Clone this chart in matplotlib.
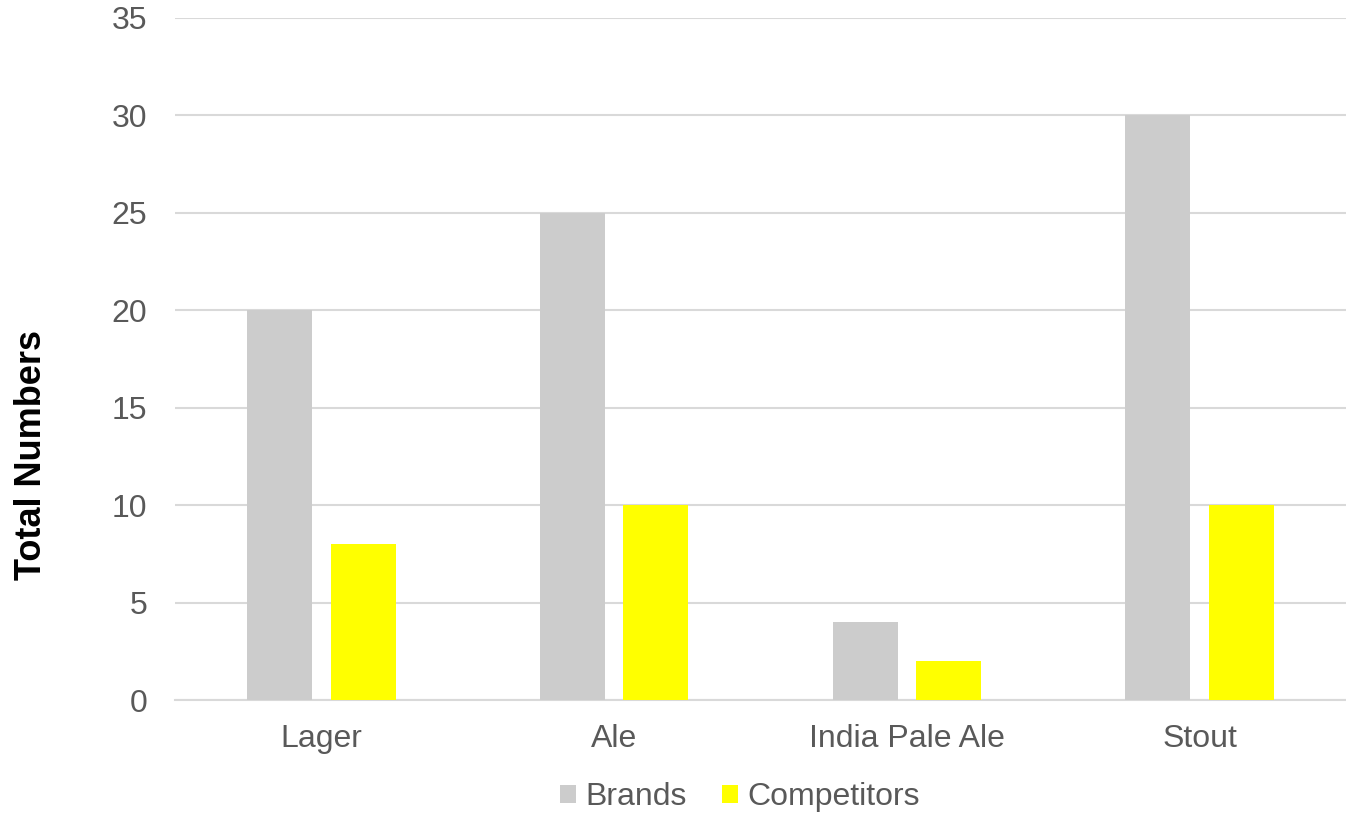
import numpy as np
import matplotlib.pyplot as plt

plt.rcParams['font.family'] = ['Liberation Sans', 'DejaVu Sans']

categories = ['Lager', 'Ale', 'India Pale Ale', 'Stout']
brands = [20, 25, 4, 30]
competitors = [8, 10, 2, 10]

fig = plt.figure(figsize=(13.46, 8.16), dpi=100)
ax = fig.add_axes([175 / 1346, 116 / 816, 1171 / 1346, 682 / 816])

x = np.arange(len(categories))
w = 0.222
off = 0.143
ax.bar(x - off, brands, w, color='#cccccc', label='Brands', zorder=3)
ax.bar(x + off, competitors, w, color='#ffff00', label='Competitors', zorder=3)

ax.set_xlim(-0.5, 3.5)
ax.set_ylim(0, 35)
ax.set_yticks(range(0, 36, 5))
ax.set_xticks(x)
ax.set_xticklabels(categories)
ax.grid(axis='y', color='#d9d9d9', linewidth=1.5, zorder=0)
for s in ['top', 'right', 'left']:
    ax.spines[s].set_visible(False)
ax.spines['bottom'].set_color('#d9d9d9')
ax.spines['bottom'].set_linewidth(1.5)
ax.tick_params(axis='both', length=0, labelsize=23, labelcolor='#595959')
ax.tick_params(axis='y', pad=20)
ax.tick_params(axis='x', pad=17)

fig.text(32 / 1346, 1 - 455 / 816, 'Total Numbers', rotation=90, fontsize=26,
         fontweight='bold', ha='center', va='center', color='black')

fig.legend(loc='center', bbox_to_anchor=(740 / 1346, 1 - 797 / 816), ncol=2,
           frameon=False, fontsize=23, labelcolor='#595959', handlelength=0.5,
           handleheight=0.5, handletextpad=0.3, columnspacing=1.1)

fig.savefig('out.png', dpi=100)
